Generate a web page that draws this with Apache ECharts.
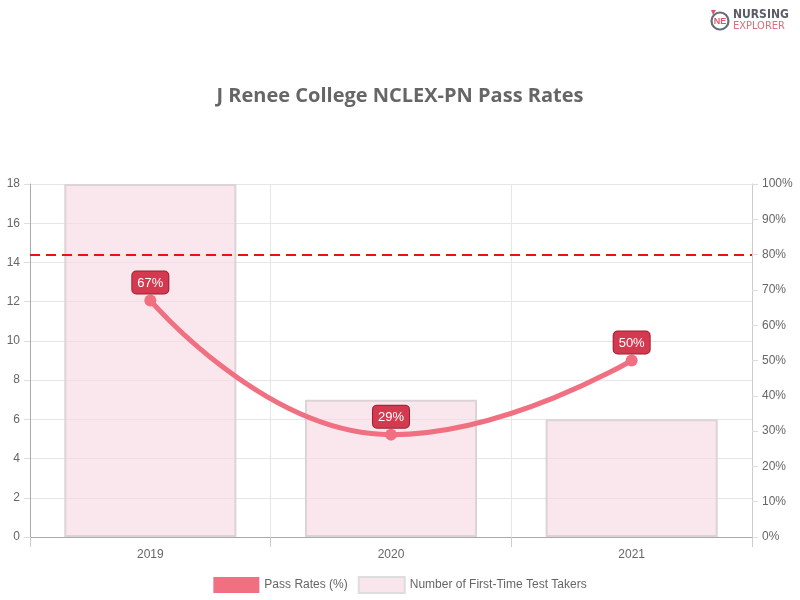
<!DOCTYPE html>
<html><head><meta charset="utf-8">
<script src="https://cdn.jsdelivr.net/npm/echarts@6/dist/echarts.min.js"></script>
<style>html,body{margin:0;padding:0;background:#fff}#c{width:800px;height:600px}</style>
</head><body><div id="c"></div>
<script>
const categories = ['2019', '2020', '2021'];
const testTakers = [18, 7, 6];
const passRates = [67, 29, 50];
const benchmark = 80;
const leftTicks = [0, 18, 2];
const rightTicks = [0, 100, 10];

const chart = echarts.init(document.getElementById('c'), null, {renderer: 'canvas'});
const font = '"Liberation Sans", Arial, Helvetica, sans-serif';
const logoFont = '"DejaVu Sans Condensed", "DejaVu Sans", sans-serif';
chart.setOption({
  animation: false,
  textStyle: {fontFamily: font},
  title: {
    text: 'J Renee College NCLEX-PN Pass Rates',
    left: 'center', top: 81,
    textStyle: {fontSize: 20, fontWeight: 'bold', color: '#666', fontFamily: '"Open Sans", "Noto Sans", sans-serif'}
  },
  graphic: [
    {type: 'circle', shape: {cx: 720, cy: 21, r: 8.5}, style: {fill: '#fff', stroke: '#6b6b78', lineWidth: 2.2}},
    {type: 'text', style: {x: 720, y: 21.5, text: 'NE', fill: '#e0566a', font: 'bold 9px ' + font, align: 'center', verticalAlign: 'middle'}},
    {type: 'polygon', shape: {points: [[711, 10], [716, 10], [713, 15]]}, style: {fill: '#e0566a'}},
    {type: 'text', style: {x: 733, y: 9, text: 'NURSING', fill: '#5b5b68', font: 'bold 12px ' + logoFont}},
    {type: 'text', style: {x: 733, y: 21, text: 'EXPLORER', fill: '#e66a7a', font: '11px ' + logoFont}}
  ],
  legend: {
    bottom: 1, left: 'center', itemWidth: 46, itemHeight: 16, itemGap: 10,
    textStyle: {color: '#666', fontSize: 12, fontFamily: font},
    data: [
      {name: 'Pass Rates (%)', icon: 'rect', itemStyle: {color: '#f07082', borderWidth: 0}},
      {name: 'Number of First-Time Test Takers', icon: 'rect', itemStyle: {color: '#f9e6ec', borderColor: '#ddd', borderWidth: 2}}
    ]
  },
  grid: {left: 30, right: 48, top: 184, bottom: 63},
  xAxis: {
    type: 'category', data: categories, boundaryGap: true,
    axisLine: {lineStyle: {color: '#aaa'}},
    axisTick: {show: true, length: 10, lineStyle: {color: '#ccc'}},
    axisLabel: {color: '#666', fontSize: 12, margin: 12},
    splitLine: {show: true, lineStyle: {color: '#e6e6e6'}}
  },
  yAxis: [
    {type: 'value', min: leftTicks[0], max: leftTicks[1], interval: leftTicks[2], position: 'left',
     axisLine: {show: true, lineStyle: {color: '#aaa'}},
     axisTick: {show: true, length: 6, lineStyle: {color: '#ddd'}},
     axisLabel: {color: '#666', fontSize: 12, margin: 10},
     splitLine: {show: true, lineStyle: {color: '#e6e6e6'}}},
    {type: 'value', min: rightTicks[0], max: rightTicks[1], interval: rightTicks[2], position: 'right',
     axisLine: {show: true, lineStyle: {color: '#ccc'}},
     axisTick: {show: true, length: 6, lineStyle: {color: '#ddd'}},
     axisLabel: {color: '#666', fontSize: 12, margin: 10, formatter: '{value}%'},
     splitLine: {show: false}}
  ],
  series: [
    {name: 'Number of First-Time Test Takers', type: 'bar', yAxisIndex: 0, data: testTakers,
     barWidth: '71.5%', z: 1,
     itemStyle: {color: 'rgba(246,218,227,0.65)', borderColor: '#ddd3d6', borderWidth: 2}},
    {name: 'Pass Rates (%)', type: 'line', yAxisIndex: 1, data: passRates, smooth: 0.5,
     symbol: 'circle', symbolSize: 12, z: 3,
     lineStyle: {color: '#f07082', width: 5},
     itemStyle: {color: '#f07082'},
     label: {show: true, position: 'top', distance: 1, formatter: '{c}%', color: '#fff', fontSize: 13,
       backgroundColor: '#d3394f', borderColor: '#9c1f33', borderWidth: 1, borderRadius: 4, padding: [5, 5, 4, 5]},
     markLine: {silent: true, symbol: ['none', 'none'], label: {show: false},
       lineStyle: {color: '#ee1111', type: [10, 6], width: 2},
       data: [{yAxis: benchmark}]}}
  ]
});
</script></body></html>
